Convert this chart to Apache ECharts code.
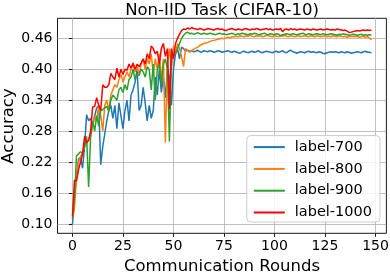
<!DOCTYPE html>
<html>
<head>
<meta charset="utf-8">
<style>
html,body{margin:0;padding:0;background:#fff;}
#chart{width:390px;height:274px;}
</style>
<script src="https://cdn.jsdelivr.net/npm/echarts@6/dist/echarts.min.js"></script>
</head>
<body>
<div id="chart"></div>
<script>
var seriesNames = ['label-700', 'label-800', 'label-900', 'label-1000'];
var xTicks = [0, 25, 50, 75, 100, 125, 150];
var yTicks = [0.10, 0.16, 0.22, 0.28, 0.34, 0.40, 0.46];

var label700 = [
0.100,0.150,0.190,0.225,0.230,0.208,0.250,0.312,0.300,0.305,
0.290,0.310,0.325,0.330,0.215,0.250,0.275,0.300,0.320,0.330,
0.305,0.330,0.285,0.335,0.310,0.285,0.320,0.340,0.300,0.350,
0.360,0.375,0.400,0.320,0.330,0.365,0.335,0.300,0.330,0.305,
0.320,0.385,0.350,0.400,0.355,0.385,0.345,0.400,0.385,0.330,
0.400,0.430,0.440,0.420,0.443,0.440,0.435,0.437,0.435,
0.436,0.434,0.435,0.437,0.434,0.433,0.436,0.435,0.434,0.436,
0.435,0.433,0.434,0.436,0.435,0.433,0.434,0.435,0.436,0.434,
0.433,0.435,0.434,0.432,0.431,0.434,0.435,0.433,0.432,0.434,
0.435,0.433,0.434,0.436,0.433,0.432,0.434,0.435,0.434,0.433,
0.432,0.434,0.435,0.433,0.434,0.436,0.433,0.432,0.435,0.437,
0.434,0.433,0.431,0.433,0.434,0.433,0.432,0.434,0.435,0.433,
0.434,0.433,0.432,0.434,0.433,0.431,0.430,0.432,0.433,0.434,
0.433,0.434,0.433,0.432,0.434,0.433,0.432,0.434,0.433,0.431,
0.432,0.433,0.434,0.433,0.432,0.434,0.435,0.433,0.433,0.432
];
var label800 = [
0.110,0.130,0.190,0.220,0.230,0.240,0.250,0.255,0.265,0.270,
0.290,0.310,0.300,0.330,0.310,0.280,0.330,0.340,0.320,0.350,
0.360,0.370,0.365,0.380,0.390,0.375,0.385,0.395,0.385,0.400,
0.410,0.395,0.405,0.390,0.410,0.420,0.400,0.420,0.410,0.430,
0.390,0.420,0.400,0.430,0.380,0.420,0.258,0.410,0.440,0.400,
0.445,0.430,0.450,0.440,0.425,0.405,0.440,0.436,0.433,0.436,
0.439,0.441,0.443,0.446,0.448,0.450,0.451,0.452,0.454,0.455,
0.456,0.457,0.458,0.459,0.460,0.459,0.461,0.462,0.461,0.463,
0.463,0.464,0.463,0.465,0.464,0.463,0.465,0.464,0.466,0.464,
0.463,0.465,0.464,0.465,0.463,0.464,0.466,0.465,0.464,0.463,
0.465,0.464,0.463,0.465,0.464,0.466,0.464,0.463,0.465,0.464,
0.463,0.464,0.465,0.463,0.464,0.465,0.464,0.463,0.465,0.464,
0.463,0.465,0.464,0.463,0.464,0.465,0.463,0.464,0.463,0.465,
0.464,0.463,0.465,0.464,0.463,0.464,0.462,0.464,0.463,0.464,
0.463,0.464,0.462,0.463,0.464,0.462,0.463,0.461,0.457
];
var label900 = [
0.110,0.150,0.232,0.236,0.240,0.238,0.250,0.270,0.172,0.270,
0.300,0.280,0.310,0.290,0.320,0.322,0.325,0.328,0.318,0.340,
0.350,0.345,0.340,0.360,0.365,0.355,0.370,0.360,0.380,0.385,
0.400,0.380,0.390,0.388,0.400,0.395,0.385,0.405,0.400,0.360,
0.410,0.340,0.400,0.410,0.370,0.410,0.420,0.400,0.260,0.420,
0.425,0.430,0.440,0.450,0.460,0.466,0.470,0.472,0.469,
0.470,0.468,0.469,0.471,0.469,0.468,0.470,0.469,0.468,0.470,
0.469,0.468,0.467,0.469,0.470,0.468,0.469,0.467,0.468,0.469,
0.470,0.468,0.467,0.469,0.468,0.470,0.469,0.468,0.467,0.469,
0.468,0.470,0.469,0.467,0.468,0.469,0.470,0.468,0.467,0.469,
0.468,0.467,0.469,0.468,0.465,0.467,0.468,0.469,0.468,0.467,
0.469,0.468,0.467,0.468,0.469,0.470,0.468,0.467,0.469,0.468,
0.467,0.468,0.469,0.468,0.467,0.469,0.468,0.467,0.468,0.469,
0.468,0.467,0.466,0.468,0.467,0.469,0.468,0.467,0.466,0.467,
0.468,0.467,0.466,0.467,0.468,0.466,0.467,0.466,0.467,0.466
];
var label1000 = [
0.115,0.185,0.183,0.205,0.220,0.235,0.270,0.258,0.262,0.280,
0.327,0.328,0.345,0.330,0.320,0.370,0.365,0.365,0.370,0.392,
0.385,0.380,0.402,0.385,0.400,0.390,0.400,0.398,0.410,0.402,
0.412,0.400,0.410,0.405,0.412,0.420,0.410,0.430,0.420,0.445,
0.440,0.430,0.435,0.410,0.440,0.450,0.425,0.440,0.323,0.440,
0.420,0.450,0.460,0.468,0.475,0.478,0.477,0.480,0.478,
0.481,0.479,0.478,0.477,0.479,0.478,0.476,0.477,0.479,0.478,
0.477,0.476,0.478,0.479,0.477,0.478,0.476,0.475,0.477,0.478,
0.479,0.477,0.476,0.478,0.477,0.476,0.478,0.479,0.477,0.476,
0.478,0.477,0.479,0.478,0.476,0.477,0.478,0.479,0.477,0.478,
0.476,0.477,0.478,0.477,0.479,0.473,0.477,0.478,0.476,0.479,
0.477,0.478,0.476,0.477,0.478,0.477,0.476,0.478,0.477,0.476,
0.478,0.477,0.476,0.477,0.478,0.476,0.477,0.478,0.477,0.476,
0.477,0.476,0.478,0.477,0.476,0.475,0.476,0.474,0.471,0.472,
0.473,0.474,0.475,0.474,0.475,0.476,0.475,0.476,0.475,0.476
];
var colors = ['#1f77b4', '#ff7f0e', '#2ca02c', '#ff0000'];

var allData = [label700, label800, label900, label1000];
var FONT = 'DejaVu Sans';

var chart = echarts.init(document.getElementById('chart'), null, {renderer: 'canvas'});
var series = allData.map(function (arr, k) {
  return {
    name: seriesNames[k],
    type: 'line',
    data: arr.map(function (v, i) { return [i, v]; }),
    showSymbol: false,
    symbol: 'none',
    lineStyle: {width: 1.5, color: colors[k]},
    itemStyle: {color: colors[k]},
    animation: false,
    z: 2 + k
  };
});

chart.setOption({
  animation: false,
  backgroundColor: '#ffffff',
  graphic: [
    {
      type: 'text', x: 222, y: 10.5, z: 100,
      style: {text: 'Non-IID Task (CIFAR-10)', fill: '#000', font: '16.5px "DejaVu Sans"',
        textAlign: 'center', textVerticalAlign: 'middle'}
    },
    {
      type: 'text', x: 9, y: 126, rotation: Math.PI / 2, z: 100,
      style: {text: 'Accuracy', fill: '#000', font: '16.5px "DejaVu Sans"',
        textAlign: 'center', textVerticalAlign: 'middle'}
    }
  ],
  grid: {
    left: 57.5, right: 3.6, top: 18.3, bottom: 40.7,
    containLabel: false,
    outerBoundsMode: 'none',
    show: true, borderColor: '#000', borderWidth: 0.9, backgroundColor: 'transparent'
  },
  legend: {
    orient: 'vertical',
    right: 10,
    bottom: 52,
    data: seriesNames,
    icon: 'rect',
    itemWidth: 31,
    itemHeight: 2,
    itemGap: 6.8,
    padding: [4, 8, 2, 7],
    backgroundColor: 'rgba(255,255,255,0.8)',
    borderColor: '#cccccc',
    borderWidth: 1,
    borderRadius: 4,
    textStyle: {fontFamily: FONT, fontSize: 14.5, color: '#000', padding: [0, 0, 0, 5]}
  },
  xAxis: {
    type: 'value',
    min: -7.4,
    max: 155.4,
    name: 'Communication Rounds',
    nameLocation: 'middle',
    nameGap: 23,
    nameTextStyle: {fontFamily: FONT, fontSize: 16.5, color: '#000'},
    axisLine: {show: false},
    axisTick: {show: true, inside: false, length: 3.5, lineStyle: {color: '#000', width: 0.9}, customValues: xTicks},
    axisLabel: {fontFamily: FONT, fontSize: 14, color: '#000', margin: 6, customValues: xTicks},
    splitLine: {show: true, lineStyle: {color: '#b0b0b0', width: 0.8}}
  },
  yAxis: {
    type: 'value',
    min: 0.082,
    max: 0.4988,
    axisLine: {show: false},
    axisTick: {show: true, inside: false, length: 3.5, lineStyle: {color: '#000', width: 0.9}, customValues: yTicks},
    axisLabel: {fontFamily: FONT, fontSize: 14, color: '#000', margin: 5, customValues: yTicks,
      formatter: function (v) { return v.toFixed(2); }},
    splitLine: {show: true, lineStyle: {color: '#b0b0b0', width: 0.8}}
  },
  series: series
});
</script>
</body>
</html>
